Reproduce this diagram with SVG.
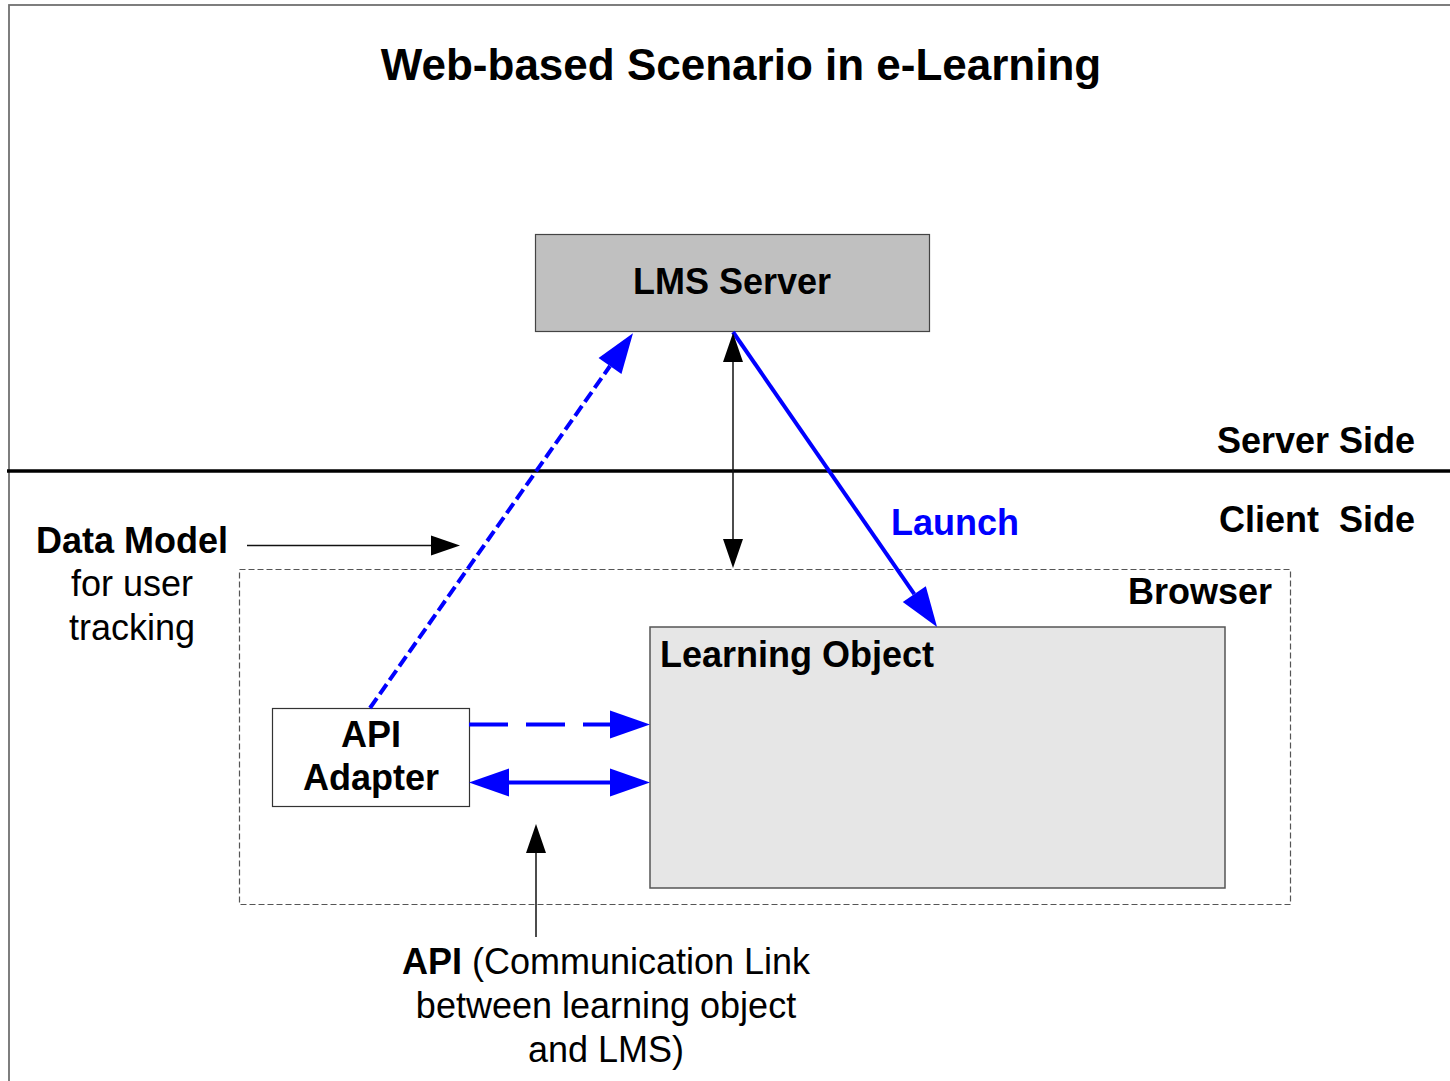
<svg xmlns="http://www.w3.org/2000/svg" width="1450" height="1081" viewBox="0 0 1450 1081">
<style>
text{font-family:"Liberation Sans",Arial,Helvetica,sans-serif;font-size:36px;fill:#000}
.b{font-weight:bold}
.t{font-size:44px;font-weight:bold}
.blue{fill:#0000ff}
.bl{stroke:#0000ff;stroke-width:4;fill:none}
.bk{stroke:#111;stroke-width:1.5;fill:none}
</style>
<defs>
<marker id="ab" markerUnits="userSpaceOnUse" markerWidth="42" markerHeight="30" refX="0" refY="14" orient="auto-start-reverse" viewBox="0 0 42 28" overflow="visible">
<path d="M0,0 L40,14 L0,28 z" fill="#0000ff"/>
</marker>
<marker id="ak" markerUnits="userSpaceOnUse" markerWidth="30" markerHeight="22" refX="0" refY="10" orient="auto-start-reverse" viewBox="0 0 30 20" overflow="visible">
<path d="M0,0 L29,10 L0,20 z" fill="#000"/>
</marker>
</defs>
<rect x="0" y="0" width="1450" height="1081" fill="#fff"/>
<rect x="9" y="5" width="1470" height="1110" fill="none" stroke="#707070" stroke-width="1.8"/>
<text class="t" x="741" y="80" text-anchor="middle">Web-based Scenario in e-Learning</text>
<line x1="7" y1="471" x2="1450" y2="471" stroke="#000" stroke-width="3.5"/>
<text class="b" x="1415" y="453" text-anchor="end">Server Side</text>
<text class="b" x="1415" y="532" text-anchor="end" xml:space="preserve">Client  Side</text>
<g id="browser">
<rect x="239.5" y="569.5" width="1051" height="335" fill="none" stroke="#555" stroke-width="1.2" stroke-dasharray="6,3"/>
<text class="b" x="1272" y="604" text-anchor="end">Browser</text>
</g>
<g id="lms-server">
<rect x="535.5" y="234.5" width="394" height="97" fill="#c0c0c0" stroke="#444" stroke-width="1.2"/>
<text class="b" x="732" y="294" text-anchor="middle">LMS Server</text>
</g>
<g id="learning-object">
<rect x="650" y="627" width="575" height="261" fill="#e6e6e6" stroke="#555" stroke-width="1.5"/>
<text class="b" x="660" y="667">Learning Object</text>
</g>
<g id="api-adapter">
<rect x="272.5" y="708.5" width="197" height="98" fill="#fff" stroke="#333" stroke-width="1.2"/>
<text class="b" x="371" y="747" text-anchor="middle">API</text>
<text class="b" x="371" y="790" text-anchor="middle">Adapter</text>
</g>
<g id="data-model-label">
<text class="b" x="132" y="553" text-anchor="middle">Data Model</text>
<text x="132" y="596" text-anchor="middle">for user</text>
<text x="132" y="640" text-anchor="middle">tracking</text>
</g>
<g id="api-label">
<text x="606" y="974" text-anchor="middle"><tspan class="b">API</tspan> (Communication Link</text>
<text x="606" y="1018" text-anchor="middle">between learning object</text>
<text x="606" y="1062" text-anchor="middle">and LMS)</text>
</g>
<g id="connectors">
<line class="bl" x1="370" y1="708" x2="610" y2="366" stroke-width="4.5" stroke-dasharray="12,5" marker-end="url(#ab)"/>
<line class="bl" x1="733" y1="332" x2="914.3" y2="594.1" marker-end="url(#ab)"/>
<line class="bl" x1="469" y1="724.5" x2="610" y2="724.5" stroke-dasharray="39,18" marker-end="url(#ab)"/>
<line class="bl" x1="509" y1="782.5" x2="610" y2="782.5" marker-start="url(#ab)" marker-end="url(#ab)"/>
<line class="bk" x1="733" y1="362" x2="733" y2="539" marker-start="url(#ak)" marker-end="url(#ak)"/>
<line class="bk" x1="247" y1="545.5" x2="431" y2="545.5" marker-end="url(#ak)"/>
<line class="bk" x1="536" y1="937" x2="536" y2="853" marker-end="url(#ak)"/>
<text class="b blue" x="891" y="535">Launch</text>
</g>
</svg>
